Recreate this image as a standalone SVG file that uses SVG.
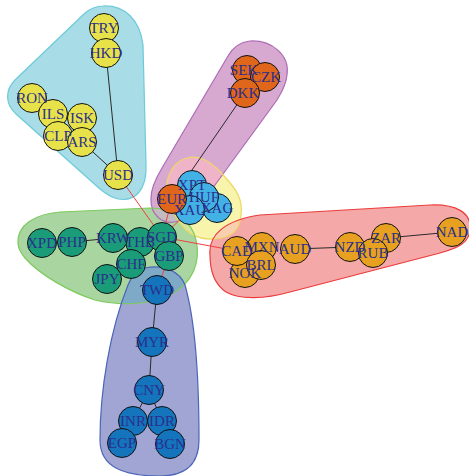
<svg xmlns="http://www.w3.org/2000/svg" width="469" height="476" viewBox="0 0 469 476">
  <style>
    .rim { fill: none; stroke-width: 1.2; }
    .e { stroke: #2a2a2a; stroke-width: 1; fill: none; }
    .er { stroke: #ee4040; stroke-width: 1; fill: none; }
    .n circle { stroke: #111; stroke-width: 1; }
    .lbl text { font-family: "Liberation Serif", "Times New Roman", serif; font-size: 15px; fill: #2b2f8c; text-anchor: middle; }
    .y { fill: #e8e24a; }
    .c { fill: #41b1e6; }
    .o { fill: #e0661c; }
    .g { fill: #e8a021; }
    .t { fill: #1b9c78; }
    .b { fill: #1474bc; }
  </style>
  <defs>
    <path id="h-cyan" d="M 103 6 C 125 5 140 20 143 45 L 146 165 C 147 190 135 202 118 199 C 110 197 106 194 100 189 L 16 114 C 5 104 5 90 15 80 L 85 13 C 90 9 96 6 103 6 Z"/>
    <path id="h-purple" d="M 250 41 C 272 40 290 55 287 75 C 286 85 282 92 277 100 L 215 185 C 205 200 195 215 178 221 C 163 226 150 215 151 198 C 151 188 156 178 162 168 L 228 56 C 233 47 241 42 250 41 Z"/>
    <path id="h-yellow" d="M 192 157 C 205 157 215 165 225 177 C 237 190 243 200 241 215 C 240 230 232 238 215 239 C 202 240 192 236 185 229 C 172 215 163 195 168 178 C 172 166 180 158 192 157 Z"/>
    <path id="h-green" d="M 18 243 C 17 225 35 214 60 212 L 150 208 C 175 208 192 222 196 240 C 201 262 193 283 170 295 C 150 305 120 306 95 300 C 70 292 40 275 25 258 C 20 252 18 248 18 243 Z"/>
    <path id="h-red" d="M 210 255 C 208 235 225 220 260 215 L 430 205 C 455 204 472 212 470 230 C 469 243 458 248 440 253 L 290 292 C 265 299 240 300 226 292 C 214 284 210 270 210 255 Z"/>
    <path id="h-blue" d="M 145 268 C 165 264 180 272 185 285 C 195 320 199 380 199 440 C 199 465 185 476 160 476 C 125 476 100 468 100 440 C 100 390 110 330 128 285 C 132 275 138 270 145 268 Z"/>
    <clipPath id="in-purple"><use href="#h-purple"/></clipPath>
    <clipPath id="in-green"><use href="#h-green"/></clipPath>
    <clipPath id="in-yellow"><use href="#h-yellow"/></clipPath>
  </defs>
  <rect width="469" height="476" fill="#ffffff"/>

  <!-- group hulls: fills, shared areas, then rims -->
  <g id="hulls">
    <use href="#h-cyan" fill="#a8dce6"/>
    <use href="#h-purple" fill="#d7a9d0"/>
    <use href="#h-yellow" fill="#f8f4ac"/>
    <use href="#h-green" fill="#a9d6a0"/>
    <use href="#h-red" fill="#f5a8a8"/>
    <use href="#h-blue" fill="#a0a5d4"/>
    <use href="#h-yellow" fill="#f0b4c8" clip-path="url(#in-purple)"/>
    <use href="#h-green" fill="#c2bcc0" clip-path="url(#in-purple)"/>
    <use href="#h-green" fill="#d2e6a2" clip-path="url(#in-yellow)"/>
    <use href="#h-red" fill="#f8d0b0" clip-path="url(#in-yellow)"/>
    <use href="#h-blue" fill="#7eaac8" clip-path="url(#in-green)"/>
    <use href="#h-cyan" class="rim" stroke="#6ccbd9"/>
    <use href="#h-purple" class="rim" stroke="#ad6cb6"/>
    <use href="#h-yellow" class="rim" stroke="#ecd860"/>
    <use href="#h-green" class="rim" stroke="#7ccb5c"/>
    <use href="#h-red" class="rim" stroke="#ec3c3c"/>
    <use href="#h-blue" class="rim" stroke="#4b65b8"/>
  </g>

  <!-- connectors -->
  <g id="edges">
    <line class="e" x1="104" y1="28" x2="106" y2="53"/>
    <line class="e" x1="106" y1="53" x2="118" y2="175"/>
    <line class="e" x1="82" y1="142" x2="118" y2="175"/>
    <line class="e" x1="245" y1="93" x2="172" y2="199"/>
    <line class="e" x1="72" y1="242" x2="113" y2="238"/>
    <line class="e" x1="295" y1="249" x2="350" y2="247"/>
    <line class="e" x1="386" y1="238" x2="452" y2="232"/>
    <line class="e" x1="157" y1="290" x2="152" y2="342"/>
    <line class="e" x1="152" y1="342" x2="149" y2="390"/>
    <line class="e" x1="149" y1="390" x2="133" y2="421"/>
    <line class="e" x1="149" y1="390" x2="162" y2="421"/>
    <line class="er" x1="118" y1="175" x2="162" y2="237"/>
    <line class="er" x1="162" y1="237" x2="172" y2="199"/>
    <line class="er" x1="162" y1="237" x2="190" y2="210"/>
    <line class="er" x1="162" y1="237" x2="237" y2="251"/>
    <line class="er" x1="169" y1="256" x2="157" y2="290"/>
  </g>

  <!-- vertices -->
  <g id="nodes" class="n">
    <g id="node-TRY"><circle class="y" cx="104" cy="28" r="14.5"/></g>
    <g id="node-HKD"><circle class="y" cx="106" cy="53" r="14.5"/></g>
    <g id="node-RON"><circle class="y" cx="32" cy="98" r="14.5"/></g>
    <g id="node-ILS"><circle class="y" cx="53" cy="114" r="14.5"/></g>
    <g id="node-ISK"><circle class="y" cx="82" cy="118" r="14.5"/></g>
    <g id="node-CLP"><circle class="y" cx="58" cy="136" r="14.5"/></g>
    <g id="node-ARS"><circle class="y" cx="82" cy="142" r="14.5"/></g>
    <g id="node-USD"><circle class="y" cx="118" cy="175" r="14.5"/></g>

    <g id="node-SEK"><circle class="o" cx="247" cy="70" r="14.5"/></g>
    <g id="node-CZK"><circle class="o" cx="265" cy="77" r="14.5"/></g>
    <g id="node-DKK"><circle class="o" cx="245" cy="93" r="14.5"/></g>

    <g id="node-XPT"><circle class="c" cx="192" cy="185" r="14.5"/></g>
    <g id="node-XAG"><circle class="c" cx="217" cy="208" r="14.5"/></g>
    <g id="node-HUF"><circle class="c" cx="204" cy="197" r="14.5"/></g>
    <g id="node-XAU"><circle class="c" cx="190" cy="210" r="14.5"/></g>
    <g id="node-EUR"><circle class="o" cx="172" cy="199" r="14.5"/></g>

    <g id="node-THB"><circle class="t" cx="140" cy="242" r="14.5"/></g>
    <g id="node-KRW"><circle class="t" cx="113" cy="238" r="14.5"/></g>
    <g id="node-SGD"><circle class="t" cx="162" cy="237" r="14.5"/></g>
    <g id="node-CHF"><circle class="t" cx="131" cy="264" r="14.5"/></g>
    <g id="node-GBP"><circle class="t" cx="169" cy="256" r="14.5"/></g>
    <g id="node-JPY"><circle class="t" cx="107" cy="279" r="14.5"/></g>
    <g id="node-XPD"><circle class="t" cx="42" cy="243" r="14.5"/></g>
    <g id="node-PHP"><circle class="t" cx="72" cy="242" r="14.5"/></g>

    <g id="node-MXN"><circle class="g" cx="262" cy="247" r="14.5"/></g>
    <g id="node-NOK"><circle class="g" cx="245" cy="273" r="14.5"/></g>
    <g id="node-CAD"><circle class="g" cx="237" cy="251" r="14.5"/></g>
    <g id="node-BRL"><circle class="g" cx="261" cy="265" r="14.5"/></g>
    <g id="node-AUD"><circle class="g" cx="295" cy="249" r="14.5"/></g>
    <g id="node-NZD"><circle class="g" cx="350" cy="247" r="14.5"/></g>
    <g id="node-ZAR"><circle class="g" cx="386" cy="238" r="14.5"/></g>
    <g id="node-RUB"><circle class="g" cx="373" cy="253" r="14.5"/></g>
    <g id="node-NAD"><circle class="g" cx="452" cy="232" r="14.5"/></g>

    <g id="node-TWD"><circle class="b" cx="157" cy="290" r="14.5"/></g>
    <g id="node-MYR"><circle class="b" cx="152" cy="342" r="14.5"/></g>
    <g id="node-CNY"><circle class="b" cx="149" cy="390" r="14.5"/></g>
    <g id="node-INR"><circle class="b" cx="133" cy="421" r="14.5"/></g>
    <g id="node-IDR"><circle class="b" cx="162" cy="421" r="14.5"/></g>
    <g id="node-EGP"><circle class="b" cx="122" cy="443" r="14.5"/></g>
    <g id="node-BGN"><circle class="b" cx="170" cy="444" r="14.5"/></g>
  </g>

  <!-- vertex labels, drawn above every vertex -->
  <g id="labels" class="lbl">
    <text x="104" y="33">TRY</text>
    <text x="106" y="58">HKD</text>
    <text x="32" y="103">RON</text>
    <text x="53" y="119">ILS</text>
    <text x="82" y="123">ISK</text>
    <text x="58" y="141">CLP</text>
    <text x="82" y="147">ARS</text>
    <text x="118" y="180">USD</text>
    <text x="244" y="75">SEK</text>
    <text x="266" y="82">CZK</text>
    <text x="243" y="98">DKK</text>
    <text x="192" y="190">XPT</text>
    <text x="204" y="202">HUF</text>
    <text x="217" y="213">XAG</text>
    <text x="190" y="215">XAU</text>
    <text x="172" y="204">EUR</text>
    <text x="42" y="248">XPD</text>
    <text x="72" y="247">PHP</text>
    <text x="113" y="243">KRW</text>
    <text x="140" y="247">THB</text>
    <text x="162" y="242">SGD</text>
    <text x="131" y="269">CHF</text>
    <text x="169" y="261">GBP</text>
    <text x="107" y="284">JPY</text>
    <text x="237" y="256">CAD</text>
    <text x="262" y="252">MXN</text>
    <text x="261" y="270">BRL</text>
    <text x="245" y="278">NOK</text>
    <text x="295" y="254">AUD</text>
    <text x="350" y="252">NZD</text>
    <text x="386" y="243">ZAR</text>
    <text x="373" y="258">RUB</text>
    <text x="452" y="237">NAD</text>
    <text x="157" y="295">TWD</text>
    <text x="152" y="347">MYR</text>
    <text x="149" y="395">CNY</text>
    <text x="133" y="426">INR</text>
    <text x="162" y="426">IDR</text>
    <text x="122" y="448">EGP</text>
    <text x="170" y="449">BGN</text>
  </g>
</svg>
